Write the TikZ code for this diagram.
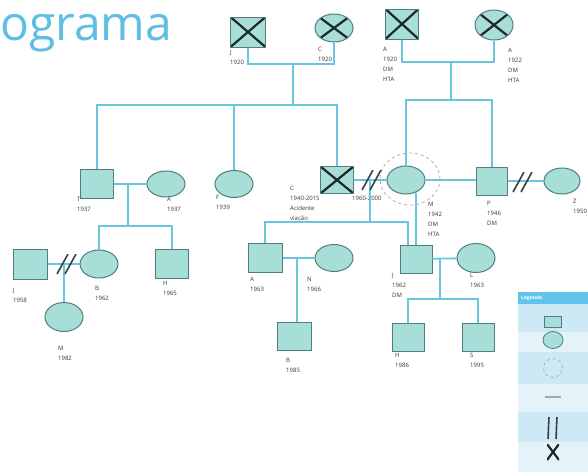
\documentclass[tikz,border=0pt]{standalone}
\usepackage{fontspec}
\setmainfont{Open Sans}
\usetikzlibrary{positioning, shapes.geometric}

\definecolor{linha}{RGB}{105,198,222}
\definecolor{preench}{RGB}{168,222,216}
\definecolor{contorno}{RGB}{80,125,130}
\definecolor{cruz}{RGB}{30,40,40}
\definecolor{barra}{RGB}{55,65,65}
\definecolor{azulTitulo}{RGB}{95,190,225}
\definecolor{legCab}{RGB}{95,195,235}
\definecolor{legA}{RGB}{205,233,245}
\definecolor{legB}{RGB}{228,243,250}
\definecolor{texto}{RGB}{55,55,55}

\begin{document}
\begin{tikzpicture}[
    x=1pt, y=-1pt,
    homem/.style={
        rectangle, draw=contorno, fill=preench, line width=1pt,
        minimum width=33pt, minimum height=29pt, inner sep=0pt
    },
    mulher/.style={
        ellipse, draw=contorno, fill=preench, line width=1pt,
        minimum width=38pt, minimum height=28pt, inner sep=0pt
    },
    falecido/.style={path picture={
        \draw[cruz, line width=2.2pt]
            (path picture bounding box.north west) -- (path picture bounding box.south east)
            (path picture bounding box.south west) -- (path picture bounding box.north east);
    }},
    separa/.style={
        inner sep=0pt, minimum width=22pt, minimum height=20pt,
        path picture={
            \draw[barra, line width=1.6pt]
                ([xshift=1pt]path picture bounding box.south west) -- ([xshift=-10pt]path picture bounding box.north east)
                ([xshift=9pt]path picture bounding box.south west) -- ([xshift=-2pt]path picture bounding box.north east);
    }},
    rel/.style={draw=linha, line width=1.8pt},
    foco/.style={ellipse, draw=gray!60, dashed, line width=0.8pt, minimum width=60pt, minimum height=52pt},
    lab/.style={anchor=north west, inner sep=0pt, align=left, text=texto, font=\fontsize{6}{10}\selectfont}
]
\useasboundingbox (0,0) rectangle (588,472);
\clip (0,0) rectangle (588,472);
\fill[white] (0,0) rectangle (588,472);

\node[anchor=base west, inner sep=0pt, text=azulTitulo, font=\fontsize{48}{48}\selectfont] (titulo) at (0,40) {ograma};

% avos
\node[homem, falecido, minimum width=35pt, minimum height=30pt] (avoJ) at (248,32) {};
\node[mulher, falecido] (avoC) at (334,28) {};
\node[homem, falecido, minimum height=30pt] (avoA) at (402,24) {};
\node[mulher, falecido, minimum height=30pt] (avaA) at (494,25) {};

\node[lab, below right=2.5pt and -18pt of avoJ.south] (avoJ-l) {J\\1920};
\node[lab, below right=4pt and -16pt of avoC.south] (avoC-l) {C\\1920};
\node[lab, below right=7.5pt and -19pt of avoA.south] (avoA-l) {A\\1920\\DM\\HTA};
\node[lab, below right=7pt and 14pt of avaA.south] (avaA-l) {A\\1922\\DM\\HTA};

% pais e tios
\node[homem] (tioT) at (97,184) {};
\node[mulher, minimum height=26pt] (tiaA) at (166,184) {};
\node[mulher, minimum height=27pt] (tiaF) at (234,184) {};
\node[homem, falecido, minimum height=27pt] (paiC) at (337,180) {};
\node[mulher] (maeM) at (406,180) {};
\node[foco] (focoM) at (410,179) {};
\node[homem, minimum width=31pt, minimum height=28pt] (padP) at (492,181) {};
\node[mulher, minimum width=36pt, minimum height=26pt] (madZ) at (562,181) {};

\node[lab, below right=-1.5pt and -20pt of tioT.south] (tioT-l) {T\\1937};
\node[lab, below right=-1pt and 1pt of tiaA.south] (tiaA-l) {A\\1937};
\node[lab, below right=-3pt and -18pt of tiaF.south] (tiaF-l) {F\\1939};
\node[lab, below right=-8.5pt and -47pt of paiC.south] (paiC-l) {C\\1940-2015\\Acidente\\viação};
\node[lab, below right=1.5pt and 15pt of paiC.south] (datas) {1960-2000};
\node[lab, below right=8pt and 22pt of maeM.south] (maeM-l) {M\\1942\\DM\\HTA};
\node[lab, below right=5.5pt and -5pt of padP.south] (padP-l) {P\\1946\\DM};
\node[lab, below right=5pt and 11pt of madZ.south] (madZ-l) {Z\\1950};

% filhos e primos
\node[homem, minimum width=34pt, minimum height=30pt] (primoJ) at (30,264) {};
\node[mulher] (primaB) at (99,264) {};
\node[homem] (primoH) at (172,264) {};
\node[mulher, minimum height=29pt] (sobM) at (64,317) {};
\node[homem, minimum width=34pt] (irmA) at (265,258) {};
\node[mulher, minimum height=27pt] (cunhN) at (334,258) {};
\node[homem, minimum width=34pt, minimum height=28pt] (sobB) at (294,336) {};
\node[homem, minimum width=32pt, minimum height=28pt] (irmJ) at (416,259) {};
\node[mulher, minimum height=29pt] (cunhL) at (476,258) {};
\node[homem, minimum width=32pt, minimum height=28pt] (sobH) at (408,337) {};
\node[homem, minimum width=32pt, minimum height=28pt] (sobS) at (478,337) {};

\node[lab, below right=8.5pt and -17pt of primoJ.south] (primoJ-l) {J\\1958};
\node[lab, below right=8pt and -4pt of primaB.south] (primaB-l) {B\\1962};
\node[lab, below right=2.5pt and -9pt of primoH.south] (primoH-l) {H\\1965};
\node[lab, below right=14pt and -6pt of sobM.south] (sobM-l) {M\\1982};
\node[lab, below right=3.5pt and -15pt of irmA.south] (irmA-l) {A\\1963};
\node[lab, below right=5pt and -27pt of cunhN.south] (cunhN-l) {N\\1966};
\node[lab, below right=7.5pt and -8pt of sobB.south] (sobB-l) {B\\1985};
\node[lab, below right=-0.5pt and -24pt of irmJ.south] (irmJ-l) {J\\1962\\DM};
\node[lab, below right=0pt and -6pt of cunhL.south] (cunhL-l) {L\\1963};
\node[lab, below right=1.5pt and -13pt of sobH.south] (sobH-l) {H\\1986};
\node[lab, below right=1.5pt and -8pt of sobS.south] (sobS-l) {S\\1995};

% uniões
\coordinate (uniao1) at (293,64);
\coordinate (filhos1) at (293,105);
\coordinate (uniao2) at (451,62);
\coordinate (filhos2) at (451,100);
\coordinate (uniao3) at (128,184);
\coordinate (filhos3) at (128,226);
\coordinate (uniao4) at (370,180);
\coordinate (filhos4) at (370,222);
\coordinate (entraJ) at (408,222);
\coordinate (uniao5) at (64,264);
\coordinate (uniao6) at (297,258);
\coordinate (uniao7) at (440,258);
\coordinate (filhos7) at (440,299);

\draw[rel] (avoJ.south) |- (uniao1) -| (avoC.south);
\draw[rel] (uniao1) -- (filhos1);
\draw[rel] (tioT.north) |- (filhos1 -| paiC.north) -- (paiC.north);
\draw[rel] (tiaF.north) -- (tiaF.north |- filhos1);

\draw[rel] (avoA.south) |- (uniao2) -| (avaA.south);
\draw[rel] (uniao2) -- (filhos2);
\draw[rel] (maeM.north) |- (filhos2 -| padP.north) -- (padP.north);

\draw[rel] (tioT) -- (tiaA);
\draw[rel] (uniao3) -- (filhos3);
\draw[rel] (primaB.north) |- (filhos3 -| primoH.north) -- (primoH.north);

\draw[rel] (paiC) -- (maeM);
\draw[rel] (uniao4) -- (filhos4);
\draw[rel] (irmA.north) |- (filhos4) -- (entraJ) -- (entraJ |- irmJ.north);
\draw[rel] (maeM.-52) -- (maeM.-52 |- irmJ.north);
\draw[rel] (maeM.east) -- (maeM.east -| padP.west);
\draw[rel] (padP) -- (madZ);

\draw[rel] (primoJ) -- (primaB);
\draw[rel] (uniao5) -- (sobM.north);
\draw[rel] (irmA) -- (cunhN);
\draw[rel] (uniao6) -- (uniao6 |- sobB.north);
\draw[rel] (irmJ) -- (cunhL);
\draw[rel] (uniao7) -- (filhos7);
\draw[rel] (sobH.north) |- (filhos7 -| sobS.north) -- (sobS.north);

% divórcios
\node[separa] (sepJB) at (67,264) {};
\node[separa] (sepCM) at (372,180) {};
\node[separa] (sepPZ) at (523,182) {};

% legenda
\fill[legCab] (518,292) rectangle (588,304);
\fill[legA] (518,304) rectangle (588,332);
\fill[legB] (518,332) rectangle (588,352);
\fill[legA] (518,352) rectangle (588,384);
\fill[legB] (518,384) rectangle (588,412);
\fill[legA] (518,412) rectangle (588,442);
\fill[legB] (518,442) rectangle (588,472);
\node[anchor=west, inner sep=0pt, text=white, font=\fontsize{5}{6}\selectfont\bfseries] (legTit) at (521,298) {Legenda};
\node[homem, minimum width=17pt, minimum height=11pt, line width=0.8pt] (legHomem) at (553,322) {};
\node[mulher, minimum width=20pt, minimum height=17pt, line width=0.8pt] (legMulher) at (553,340) {};
\node[foco, minimum width=19pt, minimum height=19pt] (legFoco) at (553,368) {};
\node[inner sep=0pt, minimum width=16pt, minimum height=1.2pt, fill=contorno!60] (legLinha) at (553,397) {};
\node[separa, minimum width=12pt, minimum height=22pt] (legSep) at (553,428) {};
\node[falecido, inner sep=0pt, minimum width=12pt, minimum height=16pt] (legMorte) at (553,452) {};

\end{tikzpicture}
\end{document}
